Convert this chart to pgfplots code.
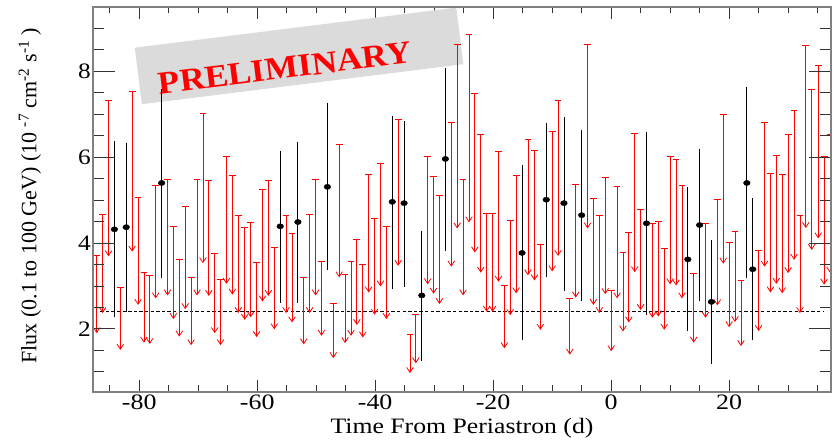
\documentclass[border=0pt]{standalone}
\usepackage{fontspec}
\setmainfont{Liberation Serif}
\usepackage{graphicx}
\usepackage{pgfplots}
\usepackage{pgfplotstable}
\pgfplotsset{compat=1.18}
\usetikzlibrary{arrows.meta}

% upper limits: x, upper limit, arrow tip
\pgfplotstableread{
x ul lo
-87.2 3.72 1.90
-86.2 4.68 2.37
-85.2 7.33 3.69
-83.2 2.98 1.51
-81.2 7.55 3.80
-80.2 5.08 2.56
-79.2 3.33 1.68
-78.2 3.25 1.65
-77.2 5.36 2.71
-75.2 5.50 2.78
-74.2 4.40 2.23
-73.2 3.62 1.82
-72.2 4.87 2.46
-71.2 3.20 1.62
-70.2 5.49 2.78
-69.2 7.03 3.53
-68.2 5.47 2.77
-67.2 3.76 1.90
-66.2 3.16 1.62
-65.2 6.03 3.05
-64.2 5.59 2.80
-63.2 4.65 2.37
-62.1 4.37 2.21
-61.1 4.49 2.27
-60.1 3.55 1.81
-59.1 5.25 2.64
-58.1 5.46 2.77
-57.1 3.90 1.99
-55.1 4.65 2.37
-54.1 4.23 2.15
-52.1 3.20 1.64
-51.1 4.67 2.37
-50.1 5.50 2.78
-49.1 3.59 1.84
-47.1 2.61 1.32
-46.1 6.31 3.20
-45.1 3.27 1.67
-44.1 3.59 1.84
-43.1 4.10 2.09
-42.1 3.52 1.80
-41.1 5.62 2.85
-40.1 4.58 2.33
-39.1 5.87 2.99
-38.1 4.39 2.23
-36.1 6.89 3.47
-34.1 1.88 0.97
-33.1 2.35 1.20
-31.1 6.04 3.04
-30.1 5.56 2.82
-29.1 5.12 2.58
-27.1 6.81 3.45
-26.1 8.64 4.34
-25.1 5.50 2.78
-24.1 8.88 4.48
-23.1 7.50 3.78
-22.1 6.55 3.31
-21.1 4.70 2.40
-20.1 4.70 2.40
-19.1 6.14 3.10
-18.1 3.03 1.55
-17.1 4.53 2.32
-16.1 5.59 2.83
-14.1 6.42 3.25
-13.0 6.17 3.13
-12.0 3.97 1.98
-10.0 6.60 3.34
-9.0 7.33 3.70
-7.0 2.72 1.40
-6.0 5.38 2.73
-4.0 8.64 4.34
-3.0 5.05 2.56
-2.0 4.66 2.37
-1.0 5.54 2.81
0.0 2.90 1.48
1.0 5.33 2.71
2.0 3.79 1.94
3.0 4.25 2.15
4.0 6.56 3.32
5.0 4.80 2.44
7.0 4.47 2.26
8.0 4.51 2.29
9.0 3.88 1.98
10.0 6.04 3.04
11.0 5.95 3.01
12.0 5.36 2.71
14.0 3.31 1.68
16.0 4.46 2.26
18.0 5.02 2.55
19.0 7.00 3.52
20.0 4.03 2.04
21.0 4.28 2.16
22.0 3.14 1.60
25.0 3.84 1.95
26.0 6.83 3.45
27.0 5.64 2.85
28.0 6.06 3.05
29.0 5.61 2.83
30.0 6.53 3.30
31.0 7.11 3.61
32.0 4.66 2.37
33.0 8.62 4.35
34.0 7.59 3.84
35.1 8.16 4.11
36.1 6.02 3.03
37.1 6.55 3.31
}\ultab

% detections: x, flux, upper and lower end of error bar
\pgfplotstableread{
x y hi lo
-84.2 4.32 6.33 2.32
-82.2 4.37 6.30 2.43
-76.2 5.40 7.54 3.23
-56.1 4.39 6.11 2.65
-53.1 4.49 6.31 2.65
-48.1 5.31 7.22 3.41
-37.1 4.96 6.93 2.97
-35.1 4.93 6.81 3.02
-32.1 2.78 4.23 1.30
-28.1 5.96 8.05 3.86
-15.1 3.77 5.79 1.77
-11.0 5.01 6.76 3.24
-8.0 4.93 6.90 2.93
-5.0 4.65 6.59 2.70
6.0 4.46 6.55 2.36
13.0 3.62 5.27 1.99
15.0 4.42 6.16 2.68
17.0 2.63 4.04 1.22
23.0 5.40 7.60 3.23
24.0 3.39 5.01 1.77
}\dettab

\pgfplotsset{
  frame/.style={
    width=738pt, height=385pt, scale only axis,
    xmin=-87.83, xmax=37.27, ymin=0.53, ymax=9.5,
    tick align=inside,
    axis line style={black!50, line width=1.3pt},
    tick style={black!80, line width=0.9pt},
    ticklabel style={font=\fontsize{22}{26}\selectfont},
    /pgf/number format/assume math mode=true,
  },
}

\begin{document}
\begin{tikzpicture}
\begin{axis}[frame, name=ax,
  xtick={-80,-60,...,20},
  minor xtick={-85,-75,-70,-65,-55,-50,-45,-35,-30,-25,-15,-10,-5,5,10,15,25,30,35},
  ytick=\empty,
  major tick length=12pt, minor tick length=6.5pt,
  xticklabel={\scalebox{1.18}[1]{\pgfmathprintnumber{\tick}}},
  xlabel={\scalebox{1.17}[1]{Time From Periastron (d)}},
  xlabel style={font=\fontsize{22}{26}\selectfont, at={(axis description cs:0.5,0)}, anchor=center, yshift=-36pt},
  xticklabel style={inner sep=3pt},
]
  % preliminary stamp
  \node[rotate=7.1, fill=black!14, minimum width=324pt, minimum height=57pt, inner sep=0pt]
    at (axis cs:-52.9,8.36) {};
  \node[rotate=7.1, text=red, font=\fontsize{32}{34}\selectfont\bfseries]
    at (axis cs:-55.3,8.08) {\scalebox{1.1}[1]{PRELIMINARY}};

  \addplot[black, line width=0.7pt, dash pattern=on 3.3pt off 2.3pt]
    coordinates {(-86.6,2.41) (36.1,2.41)};

  \addplot[red, line width=0.8pt,
    quiver={u=0, v=\thisrow{lo}-\thisrow{ul}},
    arrows={Bar[width=6.8pt]-Straight Barb[length=5pt,width=6.6pt]}]
    table[x=x, y=ul] {\ultab};

  \addplot[black, only marks, mark=*, mark size=2.9pt,
    mark options={xscale=1.15, yscale=0.9},
    error bars/.cd, y dir=both, y explicit,
    error bar style={line width=0.8pt},
    error mark options={black, mark size=1.7pt, line width=0.8pt}]
    table[x=x, y=y, y error plus expr=\thisrow{hi}-\thisrow{y},
          y error minus expr=\thisrow{y}-\thisrow{lo}] {\dettab};
\end{axis}

\begin{axis}[frame,
  xtick=\empty,
  ytick={2,4,6,8},
  minor ytick={1,1.5,2.5,3,3.5,4.5,5,5.5,6.5,7,7.5,8.5,9},
  major tick length=22pt, minor tick length=11pt,
  yticklabel={\scalebox{1.15}[1]{\pgfmathprintnumber{\tick}}},
  yticklabel style={inner sep=2pt},
  ylabel={Flux (0.1 to 100 GeV) (10 \textsuperscript{-7} cm\textsuperscript{-2} s\textsuperscript{-1} )},
  ylabel style={font=\fontsize{22}{26}\selectfont, at={(axis description cs:-0.0854,0.51)}, anchor=center},
]
\end{axis}
\path ([shift={(-93pt,-50pt)}]ax.south west) rectangle ([shift={(8pt,7pt)}]ax.north east);
\end{tikzpicture}
\end{document}
